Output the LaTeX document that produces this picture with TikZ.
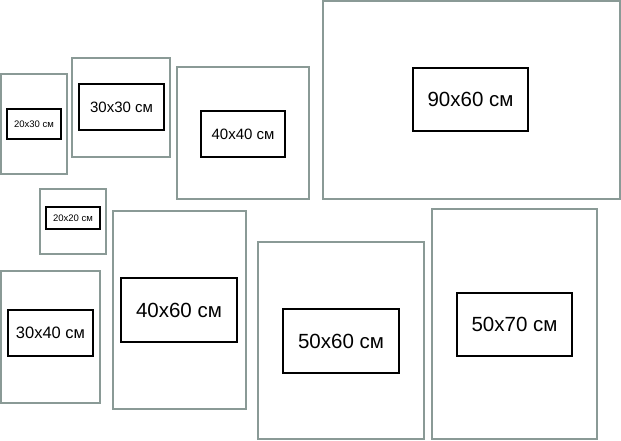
\documentclass[tikz,border=0pt]{standalone}
\usepackage{fontspec}
\setmainfont{Liberation Sans}
\usepackage{tikz}
\usetikzlibrary{positioning}
\definecolor{framegray}{RGB}{138,154,150}

\begin{document}
\begin{tikzpicture}[x=1pt, y=-1pt,
    frame/.style={draw=framegray, line width=2pt, fill=white, inner sep=0pt},
    photo/.style={draw=black, line width=1.6pt, fill=white, inner sep=0pt},
    tiny/.style={font=\fontsize{9.5}{11}\selectfont},
    mid/.style={font=\fontsize{15}{18}\selectfont},
    big/.style={font=\fontsize{20.5}{24}\selectfont}]
    \useasboundingbox[fill=white] (0,0) rectangle (621,441);

    % Outer frames
    \node[frame, minimum width=66pt, minimum height=100pt] (f2030) at (34,124) {};
    \node[frame, minimum width=98pt, minimum height=99pt] (f3030) at (121,107.5) {};
    \node[frame, minimum width=132pt, minimum height=132pt] (f4040) at (243,133) {};
    \node[frame, minimum width=297pt, minimum height=198pt] (f9060) at (471.5,100) {};
    \node[frame, minimum width=66pt, minimum height=65pt] (f2020) at (73,221.5) {};
    \node[frame, minimum width=99pt, minimum height=132pt] (f3040) at (50.5,337) {};
    \node[frame, minimum width=133pt, minimum height=198pt] (f4060) at (179.5,310) {};
    \node[frame, minimum width=166pt, minimum height=197pt] (f5060) at (341,340.5) {};
    \node[frame, minimum width=165pt, minimum height=230pt] (f5070) at (514.5,324) {};

    % Photo sizes
    \node[photo, tiny, minimum width=54pt, minimum height=30pt] (p2030) at (34,124) {20x30 см};
    \node[photo, mid, minimum width=85pt, minimum height=46pt] (p3030) at (121.5,107) {30x30 см};
    \node[photo, mid, minimum width=84pt, minimum height=46pt] (p4040) at (243,134) {40x40 см};
    \node[photo, big, minimum width=115pt, minimum height=63pt] (p9060) at (470.5,99.5) {90x60 см};
    \node[photo, tiny, minimum width=54pt, minimum height=22pt] (p2020) at (73,218) {20x20 см};
    \node[photo, font=\fontsize{16.5}{20}\selectfont, minimum width=85pt, minimum height=46pt] (p3040) at (50.5,333) {30x40 см};
    \node[photo, big, minimum width=116pt, minimum height=64pt] (p4060) at (179,310) {40x60 см};
    \node[photo, big, minimum width=116pt, minimum height=64pt] (p5060) at (341,341) {50x60 см};
    \node[photo, big, minimum width=115pt, minimum height=63pt] (p5070) at (514.5,324.5) {50x70 см};
\end{tikzpicture}
\end{document}
